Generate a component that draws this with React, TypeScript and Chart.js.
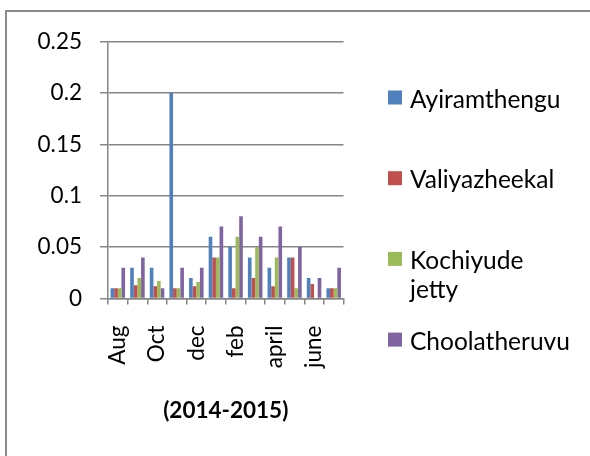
import React, { useEffect, useRef } from "react";
import { Chart, registerables } from "chart.js";

Chart.register(...registerables);

const categories = ["Aug", "Sep", "Oct", "Nov", "dec", "jan", "feb", "mar", "april", "may", "june", "july"];
const seriesNames = ["Ayiramthengu", "Valiyazheekal", "Kochiyude jetty", "Choolatheruvu"];
const ayiramthengu = [0.01, 0.03, 0.03, 0.2, 0.02, 0.06, 0.05, 0.04, 0.03, 0.04, 0.02, 0.01];
const valiyazheekal = [0.01, 0.013, 0.012, 0.01, 0.012, 0.04, 0.01, 0.02, 0.012, 0.04, 0.014, 0.01];
const kochiyudeJetty = [0.01, 0.02, 0.017, 0.01, 0.016, 0.04, 0.06, 0.05, 0.04, 0.01, 0, 0.01];
const choolatheruvu = [0.03, 0.04, 0.01, 0.03, 0.03, 0.07, 0.08, 0.06, 0.07, 0.05, 0.02, 0.03];
const colors = ["#4F81BD", "#C0504D", "#9BBB59", "#8064A2"];
const xTitle = "(2014-2015)";

const FONT = "Lato";
const FS = 22.5;
const LFS = 24.5;
const GRID = "#868686";

const legendPlugin = {
  id: "sideLegend",
  afterDraw(chart: any) {
    const ctx = chart.ctx;
    const ds = chart.data.datasets;
    ctx.save();
    ctx.font = `${LFS}px ${FONT}`;
    ctx.fillStyle = "#000";
    ctx.textBaseline = "alphabetic";
    ctx.textAlign = "left";
    // wrap width: longest single word among labels
    let maxW = 0;
    ds.forEach((d: any) => d.label.split(" ").forEach((w: string) => { maxW = Math.max(maxW, ctx.measureText(w).width); }));
    const sqX = 388, sq = 14, txX = 410, y0 = 97.5, step = 80.7, lh = 29.5;
    ds.forEach((d: any, i: number) => {
      const cy = y0 + i * step;
      ctx.fillStyle = d.backgroundColor;
      ctx.fillRect(sqX, cy - sq / 2, sq, sq);
      ctx.fillStyle = "#000";
      const words = d.label.split(" ");
      const lines: string[] = [];
      let cur = "";
      words.forEach((w: string) => {
        const t = cur ? cur + " " + w : w;
        if (ctx.measureText(t).width > maxW + 0.5 && cur) { lines.push(cur); cur = w; } else cur = t;
      });
      lines.push(cur);
      lines.forEach((ln, k) => ctx.fillText(ln, txX, cy + 10 + k * lh));
    });
    ctx.restore();
  },
};

export default function App() {
  const ref = useRef<HTMLCanvasElement>(null);
  useEffect(() => {
    const values = [ayiramthengu, valiyazheekal, kochiyudeJetty, choolatheruvu];
    const chart = new Chart(ref.current!, {
      type: "bar",
      data: {
        labels: categories,
        datasets: seriesNames.map((n, i) => ({
          label: n,
          data: values[i],
          backgroundColor: colors[i],
          borderWidth: 0,
          categoryPercentage: 0.74,
          barPercentage: 1,
        })),
      },
      options: {
        animation: false,
        responsive: false,
        layout: { padding: { left: 0, top: 41.5, right: 246.5, bottom: 31.5 } },
        plugins: { legend: { display: false }, tooltip: { enabled: false } },
        scales: {
          x: {
            afterFit: (s: any) => { s.height = 126; },
            grid: { drawOnChartArea: false, drawTicks: true, tickLength: 6, color: GRID, lineWidth: 1.5, offset: true },
            border: { display: true, color: GRID, width: 1.5 },
            ticks: {
              autoSkip: false,
              maxRotation: 90,
              minRotation: 90,
              padding: 21,
              color: "#000",
              font: { family: FONT, size: FS },
              callback: (_v: any, i: number) => (i % 2 === 0 ? categories[i] : ""),
            },
            title: { display: true, text: xTitle, color: "#000", font: { family: FONT, size: FS, weight: "bold" }, padding: { top: 0, bottom: 0 } },
          },
          y: {
            min: 0,
            max: 0.25,
            afterFit: (s: any) => { s.width = 108; },
            grid: { color: GRID, lineWidth: 1.5, tickLength: 8, drawTicks: true },
            border: { display: true, color: GRID, width: 1.5 },
            ticks: {
              stepSize: 0.05,
              padding: 18,
              color: "#000",
              font: { family: FONT, size: FS },
              callback: (v: any) => String(+Number(v).toFixed(2)),
            },
          },
        },
      },
      plugins: [legendPlugin],
    } as any);
    return () => chart.destroy();
  }, []);
  return (
    <div style={{ position: "absolute", left: 0, top: 0, width: 590, height: 456, overflow: "hidden", background: "#fff" }}>
      <div style={{ position: "absolute", left: 5, top: 10, width: 700, height: 600, border: "2px solid #8a8a8a", boxSizing: "border-box" }} />
      <canvas ref={ref} width={590} height={456} style={{ position: "absolute", left: 0, top: 0, width: 590, height: 456 }} />
    </div>
  );
}
